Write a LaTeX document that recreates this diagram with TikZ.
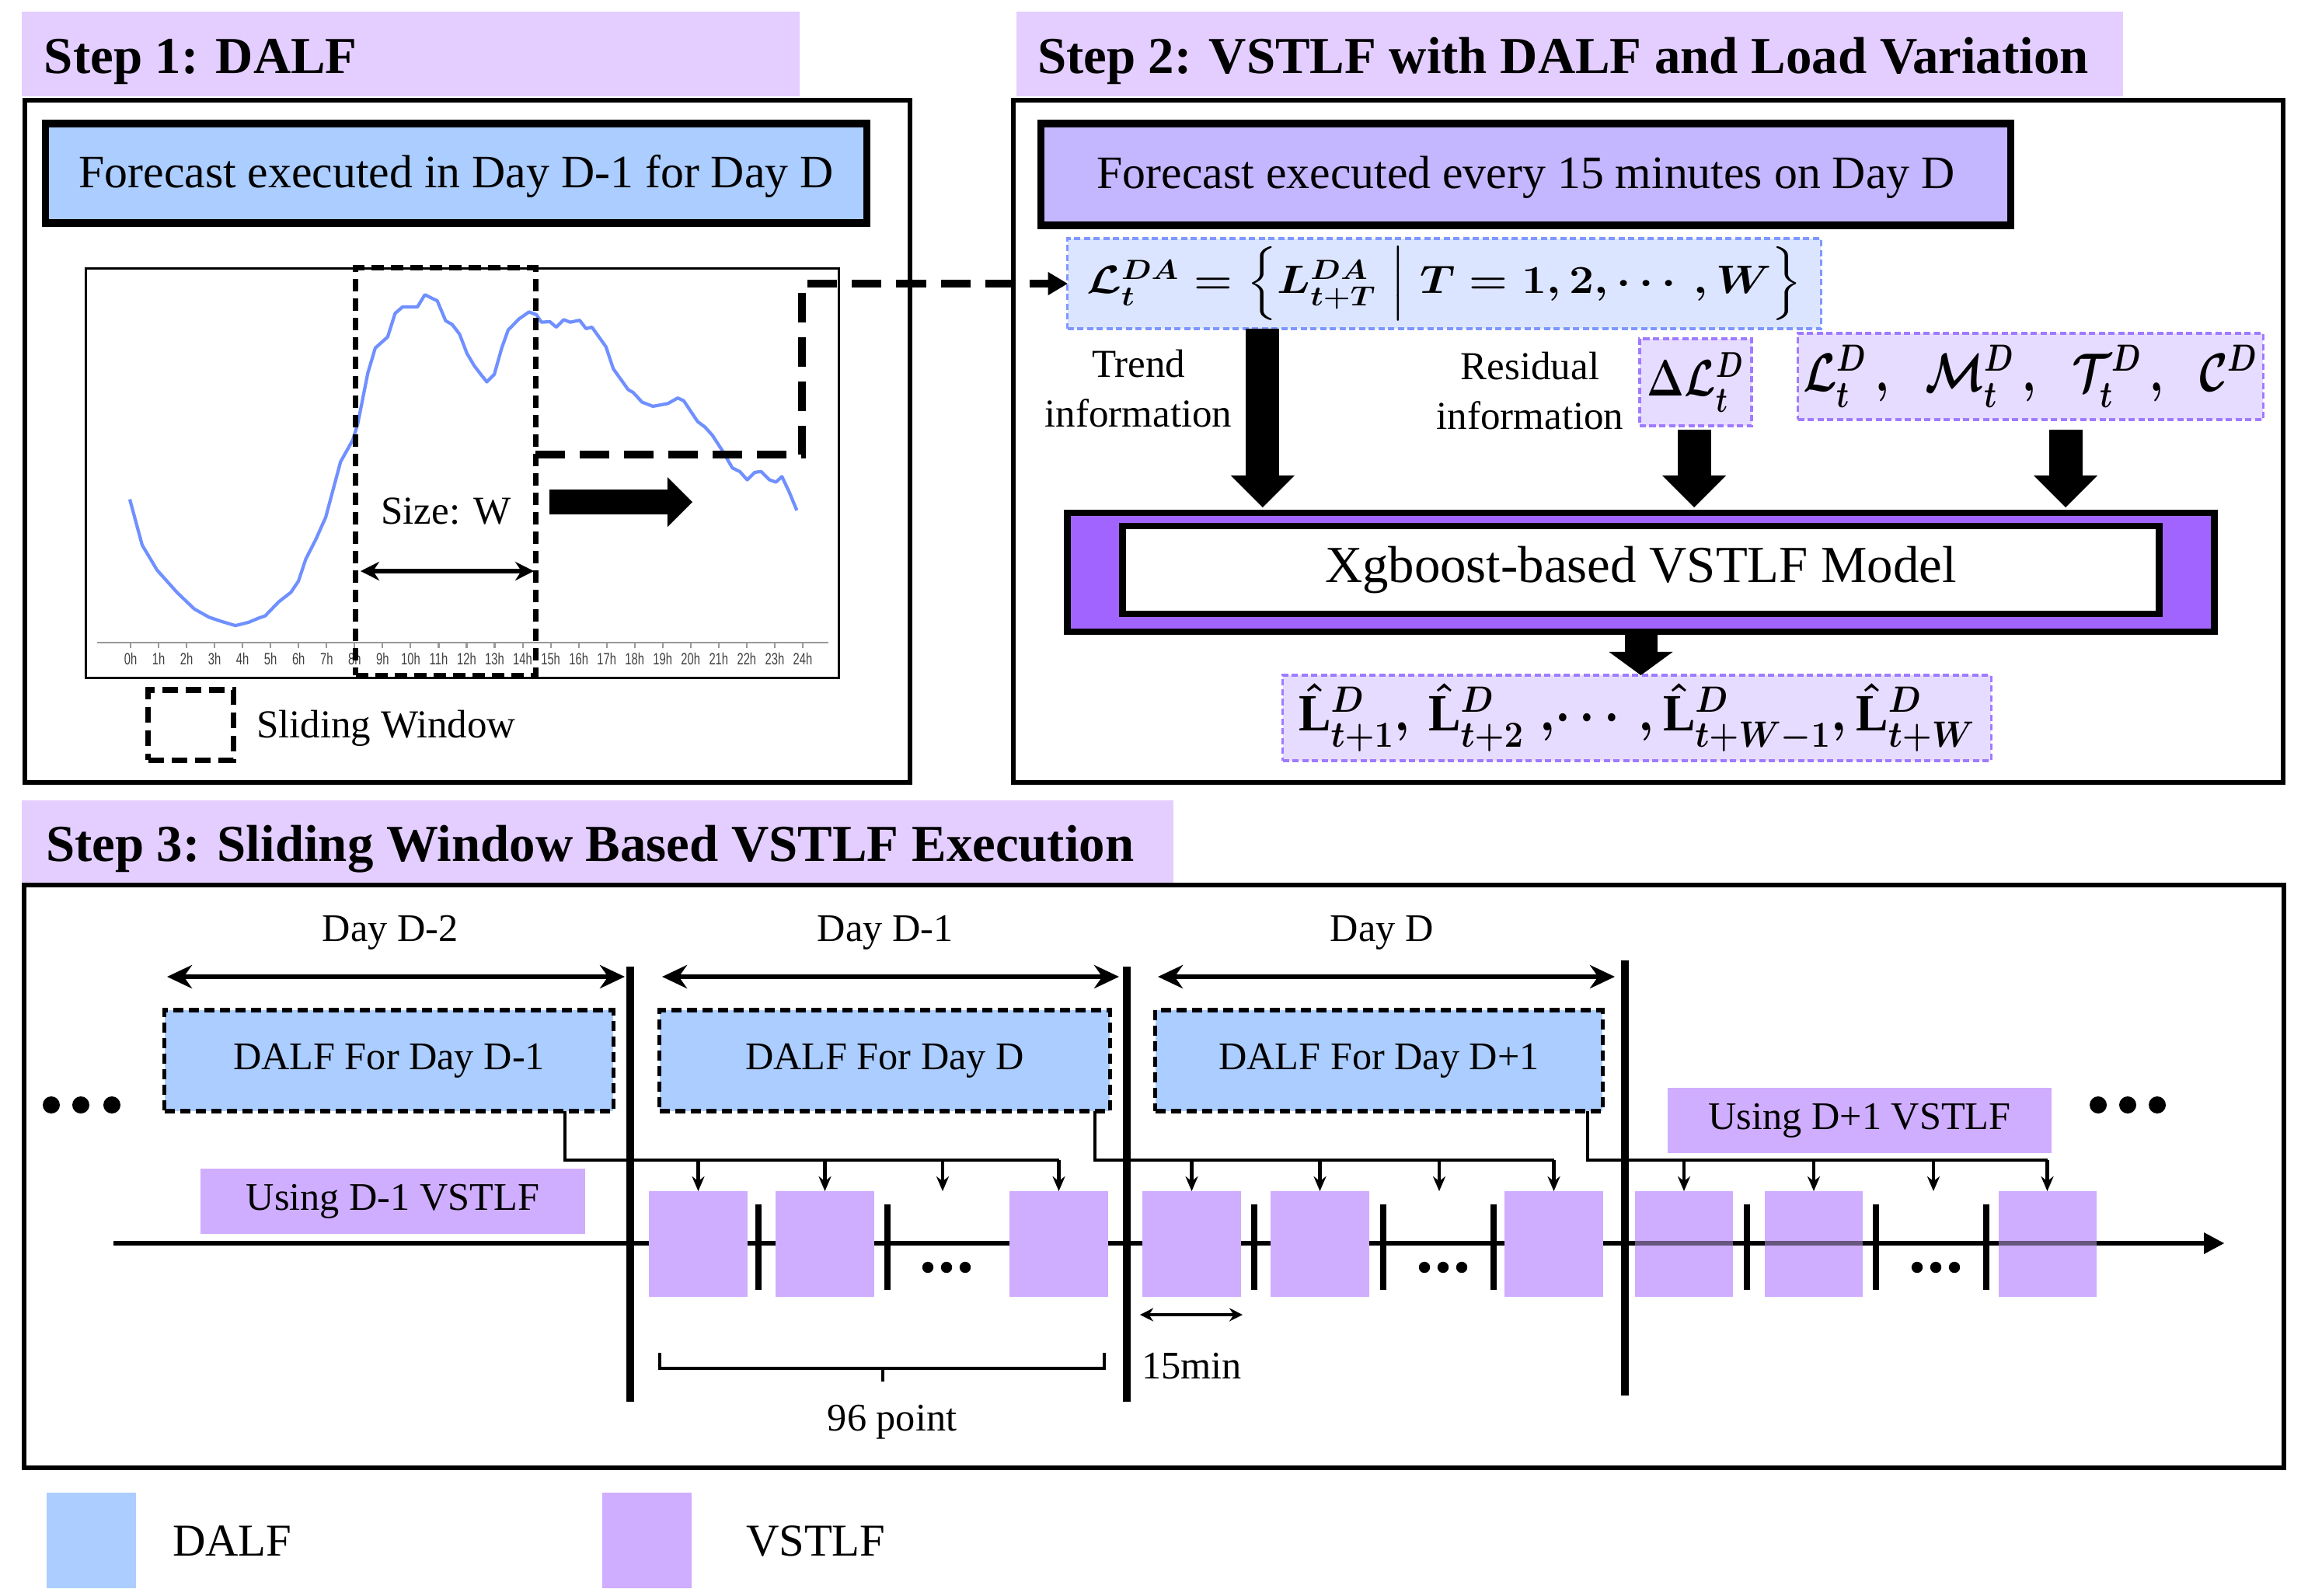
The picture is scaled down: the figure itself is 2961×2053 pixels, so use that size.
\RequirePackage{fix-cm}
\documentclass[tikz,border=0pt]{standalone}
\usepackage{amsmath}
\usepackage{graphicx}
\usepackage{fontspec}
\setmainfont{Liberation Serif}
\setsansfont{Liberation Sans}
\usetikzlibrary{arrows.meta,calc}
\definecolor{hdrc}{HTML}{E3CEFF}
\definecolor{dalfc}{HTML}{ABCDFF}
\definecolor{fcc}{HTML}{C4B6FF}
\definecolor{xgbc}{HTML}{A264FF}
\definecolor{fmlc}{HTML}{DCE5FF}
\definecolor{fmlb}{HTML}{7F98FF}
\definecolor{inpc}{HTML}{E6DCFF}
\definecolor{inpb}{HTML}{9F7BFF}
\definecolor{vstc}{HTML}{CFADFF}
\definecolor{curvec}{HTML}{7090FF}
\definecolor{axisc}{HTML}{999999}
\newsavebox{\fmlA}
\newsavebox{\fmlB}
\newsavebox{\fmlC}
\newsavebox{\fmlD}
\begin{document}
\sbox{\fmlA}{\resizebox*{9.2cm}{0.95cm}{\fontsize{20}{24}\selectfont\boldmath$\mathcal{L}_t^{DA}=\Bigl\{L_{t+T}^{DA}\Bigm|T=1,2,\cdots,W\Bigr\}$}}%
\sbox{\fmlB}{\resizebox*{1.24cm}{0.76cm}{\fontsize{20}{24}\selectfont\boldmath$\Delta\mathcal{L}_t^{D}$}}%
\sbox{\fmlC}{\resizebox*{5.85cm}{0.8cm}{\fontsize{20}{24}\selectfont\boldmath$\mathcal{L}_t^{D}\,,\;\;\mathcal{M}_t^{D}\,,\;\;\mathcal{T}_t^{D}\,,\;\;\mathcal{C}^{D}$}}%
\sbox{\fmlD}{\resizebox*{8.7cm}{0.88cm}{\fontsize{20}{24}\selectfont\boldmath$\hat{\mathrm{L}}_{t+1}^{D},\,\hat{\mathrm{L}}_{t+2}^{D}\;,\!\cdots,\hat{\mathrm{L}}_{t+W-1}^{D},\hat{\mathrm{L}}_{t+W}^{D}$}}%
\begin{tikzpicture}[x=0.01cm,y=-0.01cm,
  every node/.style={inner sep=0pt,outer sep=0pt},
  hdrbox/.style={fill=hdrc},
  hdrtxt/.style={anchor=base west,font=\fontsize{19}{22}\selectfont\bfseries},
  framebox/.style={draw,line width=1.7pt},
  mainbox/.style={draw,line width=2.7pt,font=\fontsize{17}{20}\selectfont},
  txt/.style={font=\fontsize{14.3}{17}\selectfont},
  twoline/.style={align=center,font=\fontsize{14.5}{18.2}\selectfont},
  fmlbox/.style={fill=fmlc,draw=fmlb,line width=0.9pt,dash pattern=on 0.08cm off 0.045cm},
  inpbox/.style={fill=inpc,draw=inpb,line width=0.9pt,dash pattern=on 0.08cm off 0.045cm},
  blockarrow/.style={line width=0.43cm,-{Triangle[length=0.41cm,width=0.82cm,line width=0pt]}},
  dalfbox/.style={fill=dalfc,draw,line width=1.5pt,dash pattern=on 0.13cm off 0.07cm,font=\fontsize{14.3}{17}\selectfont},
  usebox/.style={fill=vstc,font=\fontsize{14.3}{17}\selectfont},
  sq/.style={fill=vstc,minimum width=1.26cm,minimum height=1.36cm},
  conn/.style={line width=1.3pt},
  connarrow/.style={line width=1.3pt,-{Stealth[length=0.19cm,width=0.16cm]}},
  dayarrow/.style={line width=1.8pt,{Stealth[length=0.32cm,width=0.3cm]}-{Stealth[length=0.32cm,width=0.3cm]}},
  dayline/.style={line width=2.7pt},
  sepline/.style={line width=2.2pt},
]
\useasboundingbox (0,0) rectangle (2961,2053);

% ================= Step 1 =================
\node[hdrbox,minimum width=10.01cm,minimum height=1.09cm] (h1) at (528.5,69.5) {};
\node[hdrtxt] (h1t) at (57,94) {Step 1: DALF};
\node[framebox,minimum width=11.39cm,minimum height=8.78cm] (f1) at (601.5,568) {};
\node[mainbox,fill=dalfc,minimum width=10.56cm,minimum height=1.28cm,text depth=0.05cm] (b1) at (587,223) {Forecast executed in Day D-1 for Day D};
\node[draw,line width=0.9pt,minimum width=9.68cm,minimum height=5.26cm] (chart) at (595,609) {};
\draw[axisc,line width=0.8pt] (125,827) -- (1066,827);
\foreach \h in {0,...,24}{
  \draw[axisc,line width=0.6pt] ({168+36.04*\h},827) -- ++(0,7);
  \node[font=\sffamily\fontsize{6}{7}\selectfont,text=black!75] (tl\h) at ({168+36.04*\h},848) {\scalebox{0.7}[1]{\h h}};
}
\begin{scope}[shift={(100,330)},x=0.0063776cm,y=-0.0035714cm]
\draw[curvec,line width=1.2pt,line join=round] plot coordinates {
(105,875) (130,1040) (160,1130) (200,1210) (235,1270) (265,1300) (290,1315) (318,1330)
(345,1318) (365,1303) (378,1295) (405,1245) (430,1210) (445,1170) (460,1090) (480,1020)
(500,940) (515,840) (530,740) (555,660) (565,600) (585,420) (600,330) (625,290) (640,205)
(655,182) (685,182) (700,138) (725,160) (742,232) (755,245) (770,280) (785,350) (800,395)
(815,430) (825,452) (840,425) (855,330) (868,265) (890,225) (910,200) (925,210) (935,237)
(952,235) (965,255) (980,228) (993,237) (1012,230) (1025,260) (1037,255) (1065,325)
(1080,405) (1110,480) (1120,490) (1138,525) (1160,540) (1190,530) (1210,510) (1222,520)
(1250,595) (1265,615) (1280,645) (1300,700) (1320,762) (1335,775) (1350,805) (1365,778)
(1378,775) (1395,805) (1408,813) (1420,793) (1435,850) (1450,915)};
\end{scope}
\node[draw,line width=2pt,dash pattern=on 0.16cm off 0.09cm,minimum width=2.31cm,minimum height=5.24cm] (win) at (573.5,607) {};
\node[font=\fontsize{14.5}{17}\selectfont] (sz) at (574,658) {Size: W};
\coordinate (szy) at (0,735);
\draw[line width=1.7pt,{Stealth[length=0.24cm,width=0.24cm]}-{Stealth[length=0.24cm,width=0.24cm]},shorten <=0.06cm,shorten >=0.02cm] (win.west |- szy) -- (win.east |- szy);
\coordinate (ta1) at (707,646);
\coordinate (ta2) at (891,646);
\draw[line width=0.32cm,-{Triangle[length=0.32cm,width=0.64cm,line width=0pt]}] (ta1) -- (ta2);
\node[draw,line width=2pt,dash pattern=on 0.2cm off 0.1cm,minimum width=1.09cm,minimum height=0.9cm] (lsq) at (245.5,933) {};
\node[anchor=west,font=\fontsize{14.5}{17}\selectfont] (lsw) at (330,937) {Sliding Window};

% ================= Step 2 =================
\node[hdrbox,minimum width=14.24cm,minimum height=1.09cm] (h2) at (2020,69.5) {};
\node[hdrtxt] (h2t) at (1335,94) {Step 2: VSTLF with DALF and Load Variation};
\node[framebox,minimum width=16.33cm,minimum height=8.78cm] (f2) at (2120.5,568) {};
\node[mainbox,fill=fcc,minimum width=12.47cm,minimum height=1.31cm,text depth=0.05cm] (b2) at (1963.5,224.5) {Forecast executed every 15 minutes on Day D};
\node[fmlbox,minimum width=9.69cm,minimum height=1.16cm] (fml) at (1858.5,365) {\usebox{\fmlA}};
\node[inpbox,minimum width=1.44cm,minimum height=1.12cm] (dlt) at (2182,492) {\usebox{\fmlB}};
\node[inpbox,minimum width=5.98cm,minimum height=1.11cm] (inp) at (2613,484.5) {\usebox{\fmlC}};
\node[twoline] (trend) at (1465,500) {Trend\\information};
\node[twoline] (resid) at (1969,503) {Residual\\information};
\node[draw,fill=xgbc,line width=2.4pt,minimum width=14.75cm,minimum height=1.53cm] (xgbo) at (2111.5,736.5) {};
\node[draw,fill=white,line width=2.4pt,minimum width=13.33cm,minimum height=1.13cm,font=\fontsize{19}{22}\selectfont] (xgbi) at (2111.5,733.5) {Xgboost-based VSTLF Model};
\node[inpbox,minimum width=9.11cm,minimum height=1.1cm] (out) at (2106.5,924) {\usebox{\fmlD}};
\coordinate (t1) at ([xshift=-2.335cm]fml.south);
\draw[blockarrow,shorten >=0.07cm] (t1) -- (t1 |- xgbo.north);
\coordinate (r1) at ([xshift=-0.02cm]dlt.south);
\draw[blockarrow,shorten <=0.05cm,shorten >=0.07cm] (r1) -- (r1 |- xgbo.north);
\coordinate (i1) at ([xshift=0.45cm]inp.south);
\draw[blockarrow,shorten <=0.13cm,shorten >=0.07cm] (i1) -- (i1 |- xgbo.north);
\draw[line width=0.42cm,-{Triangle[length=0.3cm,width=0.82cm,line width=0pt]}] (xgbo.south) -- (xgbo.south |- out.north);

% dashed link from sliding window to DA forecast set
\coordinate (wl) at ($(win.east)+(0,-22)$);
\draw[line width=3pt,dash pattern=on 0.38cm off 0.19cm,-{Triangle[length=0.25cm,width=0.3cm,line width=0pt]}]
  (wl) -- ++(343,0) |- (fml.west);

% ================= Step 3 =================
\node[hdrbox,minimum width=14.82cm,minimum height=1.07cm] (h3) at (769,1083.5) {};
\node[hdrtxt] (h3t) at (59,1108) {Step 3: Sliding Window Based VSTLF Execution};
\node[framebox,minimum width=29.06cm,minimum height=7.5cm] (f3) at (1485,1514) {};

\node[txt] (day2) at (502,1200) {Day D-2};
\node[txt] (day1) at (1139,1200) {Day D-1};
\node[txt] (day0) at (1778,1200) {Day D};
\coordinate (a2l) at (215,1257); \coordinate (a2r) at (804,1257);
\coordinate (a1l) at (852,1257); \coordinate (a1r) at (1440,1257);
\coordinate (a0l) at (1490,1257); \coordinate (a0r) at (2078,1257);
\draw[dayarrow] (a2l) -- (a2r);
\draw[dayarrow] (a1l) -- (a1r);
\draw[dayarrow] (a0l) -- (a0r);

% timeline
\coordinate (tls) at (146,1600);
\coordinate (tle) at (2862,1600);
\draw[line width=1.9pt,-{Triangle[length=0.26cm,width=0.28cm,line width=0pt]}] (tls) -- (tle);

% VSTLF squares
\node[sq] (s11) at (898.5,1601) {};
\node[sq] (s12) at (1061.5,1601) {};
\node[sq] (s13) at (1362.5,1601) {};
\node[sq] (s21) at (1533.5,1601) {};
\node[sq] (s22) at (1698.5,1601) {};
\node[sq] (s23) at (1999.5,1601) {};
\node[sq] (s31) at (2167,1601) {};
\node[sq] (s32) at (2334,1601) {};
\node[sq] (s33) at (2634.5,1601) {};
% timeline shows through the last run
\draw[line width=1.9pt,draw opacity=0.5] (s31.west |- tls) -- (s33.east |- tls);

% separators and dots
\foreach \x in {976,1142,1614,1780,1922,2248,2414,2556}
  \draw[sepline] (\x,1550) -- (\x,1660);
\foreach \x in {1194,1218,1242,1833,1857,1881,2467,2491,2515}
  \fill (\x,1631) circle (0.072cm);
\foreach \x in {66,104,144,2700,2738,2776}
  \fill (\x,1422) circle (0.11cm);

% day separators
\draw[dayline] (811,1244) -- (811,1804);
\draw[dayline] (1450,1244) -- (1450,1804);
\draw[dayline] (2091,1236) -- (2091,1796);

% DALF boxes
\node[dalfbox,minimum width=5.77cm,minimum height=1.3cm] (d1) at (500.5,1365) {DALF For Day D-1};
\node[dalfbox,minimum width=5.79cm,minimum height=1.3cm] (d2) at (1138.5,1365) {DALF For Day D};
\node[dalfbox,minimum width=5.75cm,minimum height=1.3cm] (d3) at (1774.5,1365) {DALF For Day D+1};

% Using boxes
\node[usebox,minimum width=4.95cm,minimum height=0.84cm] (u1) at (505.5,1546) {Using D-1 VSTLF};
\node[usebox,minimum width=4.94cm,minimum height=0.84cm] (u2) at (2393,1442) {Using D+1 VSTLF};

% connectors from DALF to VSTLF runs
\coordinate (bus1) at (727,1493);
\coordinate (bus2) at (1409,1493);
\coordinate (bus3) at (2043,1493);
\coordinate (m1) at (1213,1533);
\coordinate (m2) at (1852,1533);
\coordinate (m3) at (2488,1533);
\draw[conn] (bus1 |- d1.south) -- (bus1) -- (bus1 -| s13.north);
\draw[conn] (bus2 |- d2.south) -- (bus2) -- (bus2 -| s23.north);
\draw[conn] (bus3 |- d3.south) -- (bus3) -- (bus3 -| s33.north);
\foreach \s in {s11,s12,s13}{\draw[connarrow] (\s.north |- bus1) -- (\s.north);}
\foreach \s in {s21,s22,s23}{\draw[connarrow] (\s.north |- bus2) -- (\s.north);}
\foreach \s in {s31,s32,s33}{\draw[connarrow] (\s.north |- bus3) -- (\s.north);}
\draw[connarrow] (m1 |- bus1) -- (m1);
\draw[connarrow] (m2 |- bus2) -- (m2);
\draw[connarrow] (m3 |- bus3) -- (m3);

% 15 min
\coordinate (q1) at (1467,1692);
\coordinate (q2) at (1599,1692);
\draw[line width=1.3pt,{Stealth[length=0.17cm,width=0.17cm]}-{Stealth[length=0.17cm,width=0.17cm]}] (q1) -- (q2);
\node[txt,anchor=west] (m15) at (1469,1758) {15min};

% 96 point bracket
\draw[line width=1.3pt] (849,1741) -- (849,1761) -- (1421,1761) -- (1421,1741);
\draw[line width=1.3pt] (1136,1761) -- (1136,1778);
\node[txt] (p96) at (1148,1830) {96 point};

% legend
\node[fill=dalfc,minimum width=1.15cm,minimum height=1.23cm] (lg1) at (117.5,1982.5) {};
\node[anchor=west,font=\fontsize{16.7}{20}\selectfont] (lg1t) at (222,1983) {DALF};
\node[fill=vstc,minimum width=1.15cm,minimum height=1.23cm] (lg2) at (832.5,1982.5) {};
\node[anchor=west,font=\fontsize{16.7}{20}\selectfont] (lg2t) at (960,1983) {VSTLF};
\end{tikzpicture}
\end{document}
